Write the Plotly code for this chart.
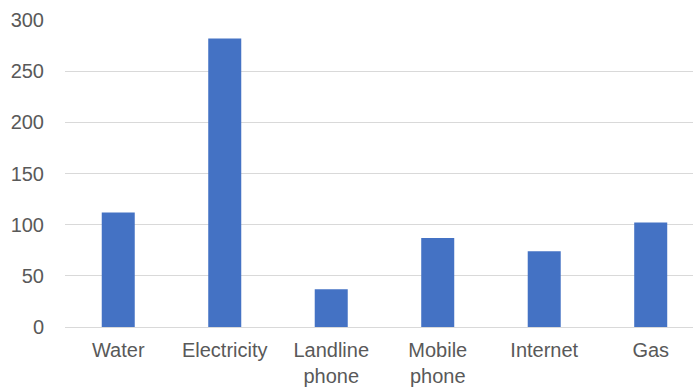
import plotly.graph_objects as go

categories = ["Water", "Electricity", "Landline<br>phone", "Mobile<br>phone", "Internet", "Gas"]
values = [112, 282, 37, 87, 74, 102]
y_ticks = [0, 50, 100, 150, 200, 250, 300]

fig = go.Figure(go.Bar(
    x=list(range(len(categories))),
    y=values,
    marker=dict(color="#4472C4", line=dict(width=0)),
    width=0.31,
))

fig.update_layout(
    width=693, height=387,
    margin=dict(l=65, r=0, t=20, b=60, pad=0),
    paper_bgcolor="white", plot_bgcolor="white",
    font=dict(family="Liberation Sans, Arial, sans-serif", size=20, color="#595959"),
    showlegend=False,
    xaxis=dict(
        range=[-0.5, 5.397],
        tickmode="array",
        tickvals=list(range(len(categories))),
        ticktext=categories,
        showgrid=False, zeroline=False, showline=False,
        ticks="outside", ticklen=5, tickcolor="rgba(0,0,0,0)",
    ),
    yaxis=dict(
        range=[0, 300],
        tickmode="array",
        tickvals=y_ticks,
        showgrid=True, gridcolor="#D9D9D9", gridwidth=1,
        zeroline=True, zerolinecolor="#D9D9D9", zerolinewidth=1,
        showline=False,
        ticks="outside", ticklen=16, tickcolor="rgba(0,0,0,0)",
    ),
)

fig.write_html("out.html")
